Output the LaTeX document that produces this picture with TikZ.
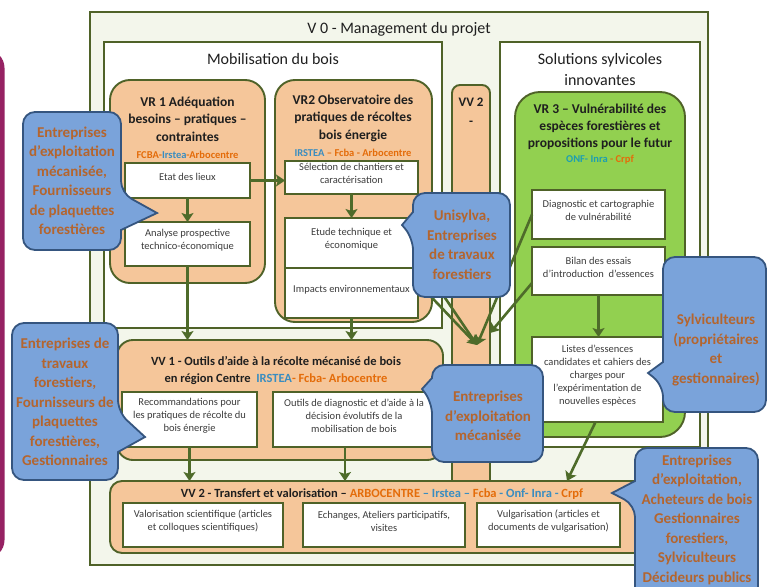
\documentclass[tikz,border=0pt]{standalone}
\usepackage{fontspec}
\setmainfont{Carlito}
\usetikzlibrary{arrows.meta,fit}
\definecolor{cB}{HTML}{4F6228}
\definecolor{cBg}{HTML}{F3F6EB}
\definecolor{cTan}{HTML}{F5C69A}
\definecolor{cGreen}{HTML}{92D050}
\definecolor{cBlue}{HTML}{7AA3DA}
\definecolor{cBlueD}{HTML}{35557F}
\definecolor{cCT}{HTML}{B4652E}
\definecolor{cOr}{HTML}{E46C0A}
\definecolor{cBT}{HTML}{3A8DC0}
\definecolor{cTeal}{HTML}{1E9FB0}
\definecolor{cTitle}{HTML}{1F1F1F}
\definecolor{cTxt}{HTML}{3C3C3C}
\definecolor{cArr}{HTML}{4E6B2A}
\definecolor{cMar}{HTML}{962263}
\newcommand\fsz[2]{\fontsize{#1}{#2}\selectfont}
\begin{document}
\begin{tikzpicture}[x=1pt,y=-1pt,
  bd/.style={draw=cB, line width=1.9pt},
  fitbox/.style={inner sep=0pt, outer sep=0pt},
  tanbox/.style={fitbox, bd, fill=cTan, rounded corners=#1},
  tanbox/.default=15pt,
  wbox/.style={fitbox, draw=cB, line width=1.8pt, fill=white, align=center, text=cTxt, font=\fsz{10.5}{13}},
  ttl/.style={align=center, text=cTitle, inner sep=0pt},
  vrt/.style={ttl, font=\bfseries\fsz{13.5}{17.5}},
  org/.style={inner sep=0pt, font=\bfseries\fsz{10.5}{13}},
  arr/.style={draw=cArr, line width=2.6pt, -{Stealth[length=9pt, width=12pt, inset=2pt]}},
  cshape/.style={fill=cBlue, draw=cBlueD, line width=1.8pt},
  ctext/.style={align=center, inner sep=0pt, text=cCT, font=\bfseries\fsz{15}{19.5}}]
\useasboundingbox (0,0) rectangle (767,586);
\fill[white] (0,0) rectangle (767,586);
% maroon frame edge
\draw[cMar, line width=5pt, rounded corners=16pt] (-40,52) -- (2,52) -- (2,556) -- (-40,556);

% V0
\node[fitbox, bd, line width=2.2pt, fill=cBg, fit={(90,12) (708,565)}] (v0) {};
\node[ttl, font=\fsz{16}{19}] (v0t) at (399,29) {V 0 - Management du projet};
\node[fitbox, bd, fill=white, fit={(104,42) (442,328)}] (mob) {};
\node[ttl, font=\fsz{16}{19}] (mobt) at (273,59) {Mobilisation du bois};
\node[fitbox, bd, fill=white, fit={(500,42) (700,447)}] (sol) {};
\node[ttl, font=\fsz{16}{21}] (solt) at (600,70) {Solutions sylvicoles\\innovantes};

% VV2 strip
\node[tanbox=8pt, fit={(452,85) (490,548)}] (strip) {};
\node[ttl, font=\bfseries\fsz{13}{19}] (stript) at (471,112) {VV 2\\-};

% VR1
\node[tanbox=20pt, fit={(110,80) (265,283)}] (vr1) {};
\node[vrt] (vr1t) at (187.5,119) {VR 1 Adéquation\\besoins – pratiques –\\contraintes};
\node[org] (vr1o) at (187.5,155) {\color{cOr}FCBA-\color{cBT}Irstea\color{cOr}-Arbocentre};
\node[wbox, fit={(125,163) (250,198)}] (etat) {Etat des lieux};
\node[wbox, fit={(125,222) (250,266)}] (analyse) {Analyse prospective\\technico-économique};

% VR2
\node[tanbox=20pt, fit={(275,80) (432,322)}] (vr2) {};
\node[vrt] (vr2t) at (353,118) {VR2 Observatoire des\\pratiques de récoltes\\bois énergie};
\node[org] (vr2o) at (353,153) {\color{cBT}IRSTEA \color{cOr}– Fcba - Arbocentre};
\node[wbox, fit={(285,161) (418,194)}] (sel) {Sélection de chantiers et\\caractérisation};
\node[wbox, fit={(285,218) (418,268)}] (etude) {Etude technique et\\économique};
\node[wbox, fit={(285,268) (418,318)}] (impacts) {Impacts environnementaux};

% VR3
\node[tanbox=25pt, fill=cGreen, fit={(515,92) (685,437)}] (vr3) {};
\node[vrt, font=\bfseries\fsz{13.5}{17}] (vr3t) at (600,127) {VR 3 – Vulnérabilité des\\espèces forestières et\\propositions pour le futur};
\node[org] (vr3o) at (600,160) {\color{cTeal}ONF- Inra \color{cOr}- Crpf};
\node[wbox, fit={(532,190) (665,239)}] (diag) {Diagnostic et cartographie\\de vulnérabilité};
\node[wbox, fit={(532,247) (665,295)}] (bilan) {Bilan des essais\\d'introduction\ \ d'essences};
\node[wbox, fit={(532,337) (663,422)}] (listes) {Listes d'essences\\candidates et cahiers des\\charges pour\\l'expérimentation de\\nouvelles espèces};

% VV1
\node[tanbox=16pt, fit={(117,340) (443,460)}] (vv1) {};
\node[ttl, font=\bfseries\fsz{12.5}{17}] (vv1t) at (276,370.5) {VV 1 - Outils d'aide à la récolte mécanisé de bois\\en région Centre \ {\color{cBT}IRSTEA}{\color{cOr}- Fcba- Arbocentre}};
\node[wbox, fit={(122,392) (257,447)}] (reco) {Recommandations pour\\les pratiques de récolte du\\bois énergie};
\node[wbox, fit={(273,392) (435,447)}] (outils) {Outils de diagnostic et d'aide à la\\décision évolutifs de la\\mobilisation de bois};

% VV2
\node[tanbox=12pt, fit={(110,481) (700,553)}] (vv2) {};
\node[ttl, font=\bfseries\fsz{12.5}{14}] (vv2t) at (382,494) {VV 2 - Transfert et valorisation – {\color{cOr}ARBOCENTRE} {\color{cBT}– Irstea –} {\color{cOr}Fcba} {\color{cBT}- Onf- Inra -} {\color{cOr}Crpf}};
\node[wbox, fit={(123,503) (283,547)}] (valo) {Valorisation scientifique (articles\\et colloques scientifiques)};
\node[wbox, fit={(303,503) (465,547)}] (echa) {Echanges, Ateliers participatifs,\\visites};
\node[wbox, fit={(477,503) (620,547)}] (vulg) {Vulgarisation (articles et\\documents de vulgarisation)};

% connectors
\coordinate (s1) at (477,345);
\coordinate (s2) at (490,333);
\coordinate (lt) at (567,0);
\draw[arr] (etat.east) -- (etat.east -| sel.west);
\draw[arr] (etat) -- (analyse);
\draw[arr] (analyse.south) -- (analyse.south |- vv1.north);
\draw[arr] (sel) -- (etude);
\draw[arr] (impacts.south) -- (impacts.south |- vv1.north);
\draw[arr] (reco.south) -- (reco.south |- vv2.north);
\draw[arr] ([xshift=-9pt]outils.south) -- ([xshift=-9pt]outils.south |- vv2.north);
\draw[arr] (bilan.south) -- (bilan.south |- listes.north);
\draw[arr] ([xshift=-2pt]listes.south) -- (vv2.north -| lt);
\draw[arr] ([yshift=-15pt]etude.east) -- (s1);
\draw[arr] ([yshift=10pt]impacts.east) -- (s1);
\draw[arr] (diag.west) -- (s1);
\draw[arr] ([yshift=-12pt]bilan.west) -- (s2);

% callouts
\path[cshape, rounded corners=12pt] (23,112) -- (121,112) -- (121,193) [sharp corners] -- (157,213) -- (121,230) [rounded corners=12pt] -- (121,250) -- (23,250) -- cycle;
\node[ctext] (c1) at (72,181) {Entreprises\\d'exploitation\\mécanisée,\\Fournisseurs\\de plaquettes\\forestières};

\path[cshape, rounded corners=12pt] (12,323) -- (118,323) -- (118,412) [sharp corners] -- (145,437) -- (118,452) [rounded corners=12pt] -- (118,480) -- (12,480) -- cycle;
\node[ctext] (c2) at (65,402) {Entreprises de\\travaux\\forestiers,\\Fournisseurs de\\plaquettes\\forestières,\\Gestionnaires};

\path[cshape, rounded corners=12pt] (413,193) -- (510,193) -- (510,297) -- (413,297) -- (413,238) [sharp corners] -- (402,225) -- (413,212) [rounded corners=12pt] -- cycle;
\node[ctext] (c3) at (462,245) {Unisylva,\\Entreprises\\de travaux\\forestiers};

\path[cshape, rounded corners=12pt] (432,365) -- (543,365) -- (543,462) -- (432,462) -- (432,402) [sharp corners] -- (422,389) -- (432,378) [rounded corners=12pt] -- cycle;
\node[ctext] (c4) at (488,416) {Entreprises\\d'exploitation\\mécanisée};

\path[cshape, rounded corners=12pt] (663,257) -- (766,257) -- (766,412) -- (663,412) -- (663,385) [sharp corners] -- (648,373) -- (663,362) [rounded corners=12pt] -- cycle;
\node[ctext] (c5) at (716,350) {Sylviculteurs\\(propriétaires\\et\\gestionnaires)};

\path[cshape, rounded corners=12pt] (635,448) -- (758,448) -- (758,600) -- (635,600) -- (635,505) [sharp corners] -- (612,493) -- (635,481) [rounded corners=12pt] -- cycle;
\node[ctext] (c6) at (697,519.5) {Entreprises\\d'exploitation,\\Acheteurs de bois\\Gestionnaires\\forestiers,\\Sylviculteurs\\Décideurs publics};
\end{tikzpicture}
\end{document}
